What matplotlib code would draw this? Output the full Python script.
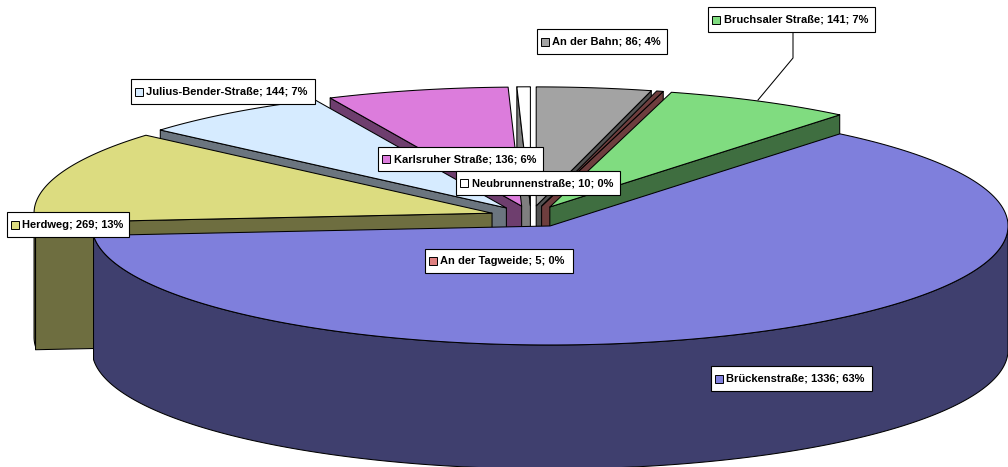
import numpy as np
import matplotlib
matplotlib.use('Agg')
import matplotlib.pyplot as plt
from matplotlib.patches import Polygon, Rectangle

plt.rcParams['font.family'] = ['Liberation Sans', 'DejaVu Sans']

# clockwise from 12 o'clock
names = ['An der Bahn', 'An der Tagweide', 'Bruchsaler Straße', 'Brückenstraße',
         'Herdweg', 'Julius-Bender-Straße', 'Karlsruher Straße', 'Neubrunnenstraße']
counts = [86, 5, 141, 1336, 269, 144, 136, 10]
percents = [4, 0, 7, 63, 13, 7, 6, 0]
top_colors = ['#A3A3A3', '#DF8080', '#80DC80', '#7F7FDC', '#DCDC80', '#D6EBFF', '#DC7CDC', '#FFFFFF']
wall_colors = ['#525252', '#6E3E3E', '#3F6E40', '#3F3F6E', '#6E6E40', '#6B757F', '#6E3E6E', '#7F7F7F']

# box left, top, right, bottom in image pixels
label_boxes = [(537, 29, 667, 54), (425, 249, 573, 273), (708, 7, 875, 32), (711, 366, 872, 391),
               (7, 212, 129, 237), (131, 79, 315, 104), (378, 147, 543, 171), (456, 171, 620, 195)]

# pie projection
cx, cy = 531, 216.5
rx, ry = 458, 119
ex, ey = 41, 10.7
depth = 124
cut_depth = 127


def rim(t, ox, oy):
	return ox + rx * np.sin(t), oy - ry * np.cos(t)


fig = plt.figure(figsize=(10.08, 4.67), dpi=100)
ax = fig.add_axes([0, 0, 1, 1])
ax.set_xlim(0, 1008)
ax.set_ylim(467, 0)
ax.axis('off')

edges = np.cumsum([0] + counts) / sum(counts) * 2 * np.pi
mids = (edges[:-1] + edges[1:]) / 2

# back slices first
for i in np.argsort(-np.cos(mids)):
	a0, a1 = edges[i], edges[i + 1]
	ox = cx + ex * np.sin(mids[i])
	oy = cy - ey * np.cos(mids[i])
	wall = wall_colors[i]
	# the Tagweide sliver is so thin only its wall shows
	top = wall if names[i] == 'An der Tagweide' else top_colors[i]
	style = dict(edgecolor='black', linewidth=0.75, joinstyle='round')

	# the cut face turned towards the viewer
	cut = a1 if np.sin(mids[i]) > 0 else a0
	if names[i] != 'Brückenstraße':
		x, y = rim(cut, ox, oy)
		ax.add_patch(Polygon([(ox, oy), (x, y), (x, y + cut_depth), (ox, oy + cut_depth)], facecolor=wall, **style))

	# outer wall, front half only
	lo, hi = max(a0, np.pi / 2), min(a1, 3 * np.pi / 2)
	if hi > lo:
		t = np.linspace(lo, hi, 200)
		x, y = rim(t, ox, oy)
		pts = list(zip(x, y)) + list(zip(x[::-1], y[::-1] + depth))
		ax.add_patch(Polygon(pts, facecolor=wall, **style))

	t = np.linspace(a0, a1, 200)
	x, y = rim(t, ox, oy)
	ax.add_patch(Polygon([(ox, oy)] + list(zip(x, y)), facecolor=top, **style))

# leader line of Bruchsaler Straße
ax.plot([793, 793, 758], [32, 58, 100], color='black', linewidth=0.75, zorder=5)

for i, (l, t, r, b) in enumerate(label_boxes):
	ax.add_patch(Rectangle((l, t), r - l, b - t, facecolor='white', edgecolor='black', linewidth=0.8, zorder=6))
	mid = (t + b) / 2
	ax.add_patch(Rectangle((l + 3.5, mid - 4), 8, 8, facecolor=top_colors[i], edgecolor='black', linewidth=0.7, zorder=7))
	ax.text(l + 15.5, mid, '%s; %d; %d%%' % (names[i], counts[i], percents[i]), fontsize=8, fontweight='bold',
		ha='left', va='center', color='black', zorder=7)

plt.savefig('out.png', dpi=100)
